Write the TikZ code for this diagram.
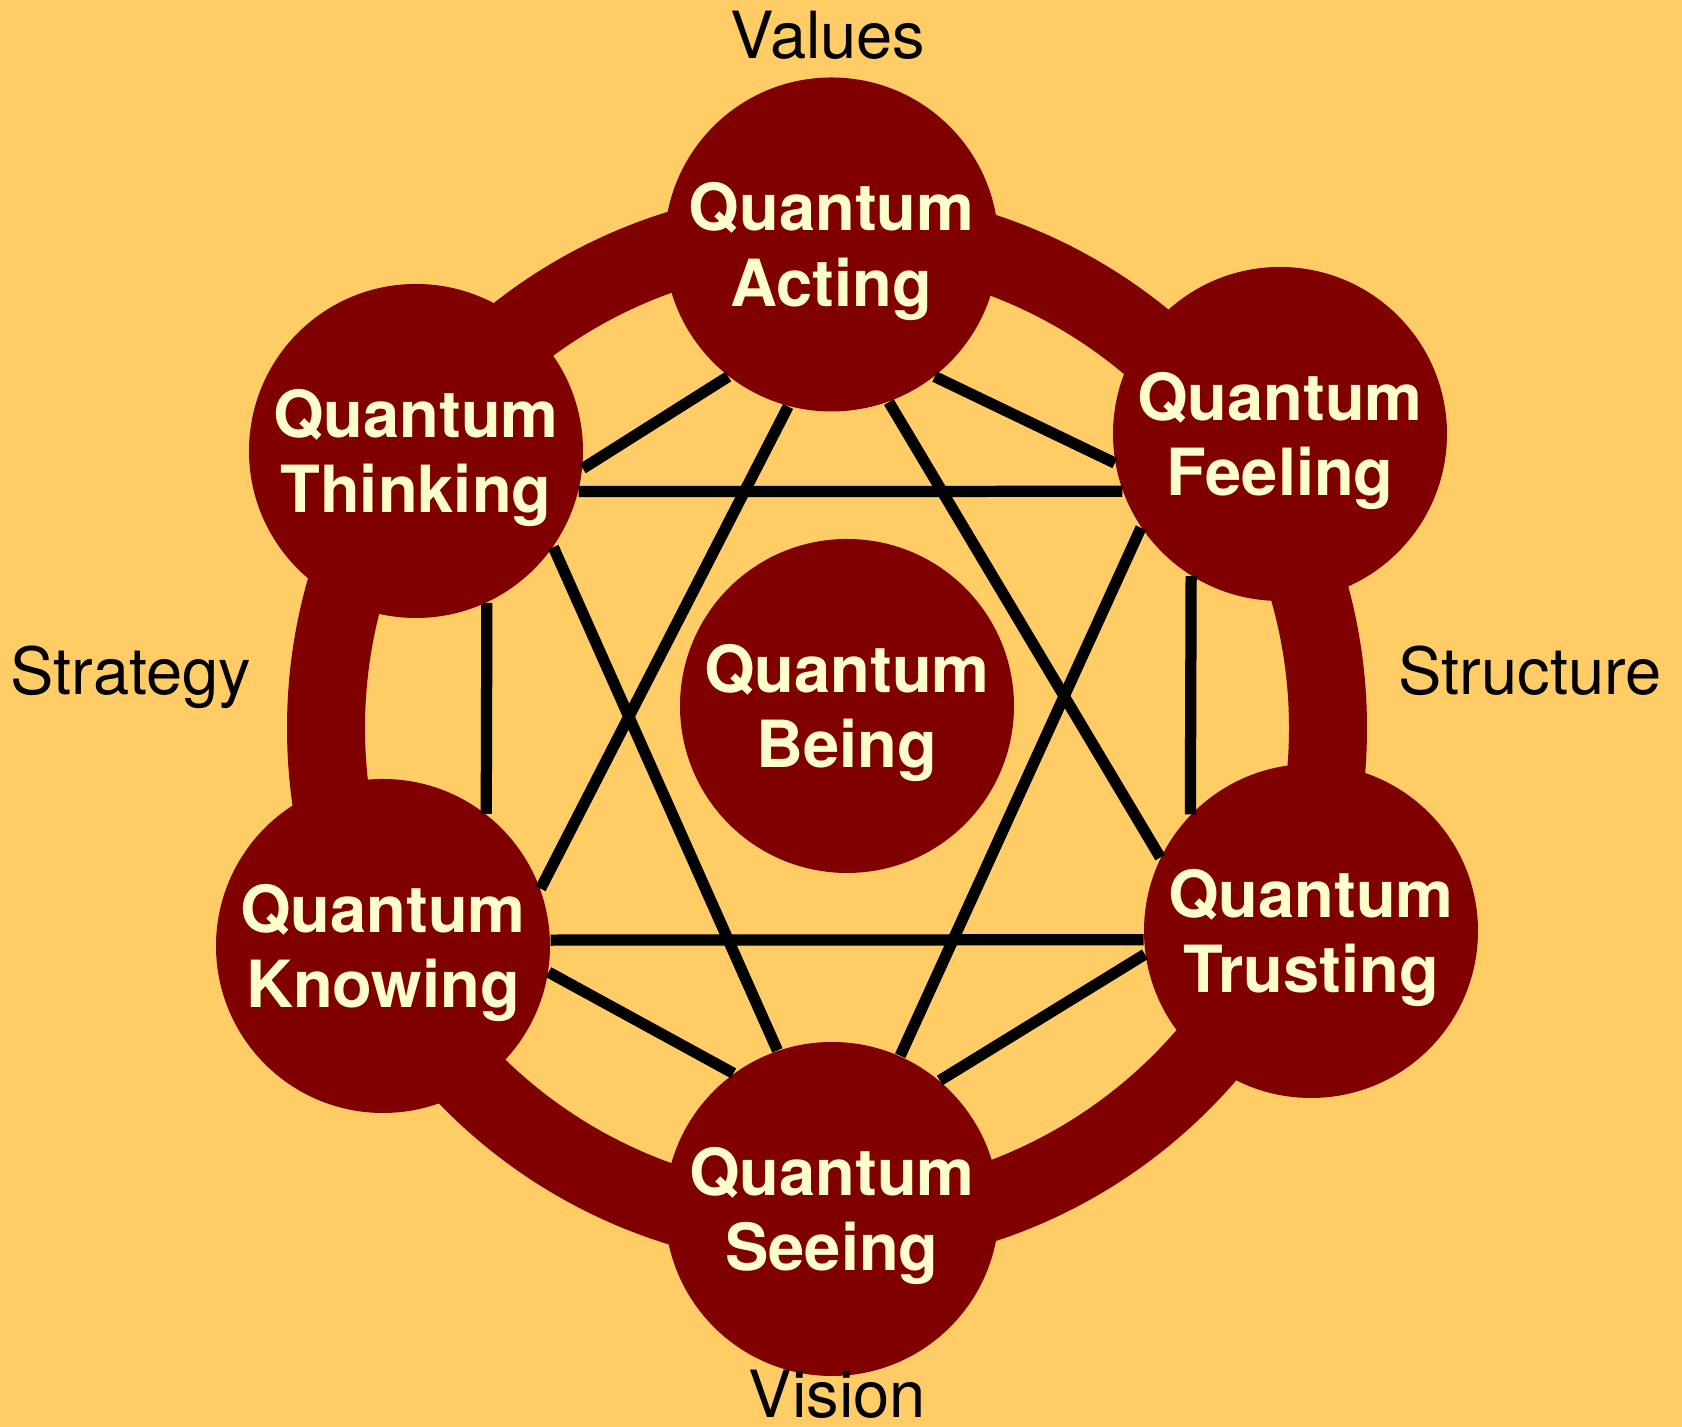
\documentclass[tikz,border=0pt]{standalone}
\usepackage{fontspec}
\setmainfont{TeX Gyre Heros}
\usepackage{xcolor}
\definecolor{qback}{HTML}{FFCC66}
\definecolor{qred}{HTML}{800000}
\definecolor{qtext}{HTML}{FFFFCC}

\begin{document}
\begin{tikzpicture}[
  quantum/.style={circle,fill=qred,text=qtext,minimum size=3.34cm,inner sep=0pt,
    align=center,text depth=0pt,font=\fontsize{18.5}{21.5}\selectfont\bfseries},
  aspect/.style={anchor=base,inner sep=0pt,text=black,font=\fontsize{18.5}{21.5}\selectfont},
  link/.style={draw=black,line width=3.2pt},
  ring/.style={draw=qred,line width=0.78cm}]

\fill[qback] (0,0) rectangle (16.82,14.27);
\useasboundingbox (0,0) rectangle (16.82,14.27);

% ring
\coordinate (RingCentre) at (8.27,6.99);
\draw[ring] (RingCentre) circle (5.01cm);

% circles
\node[quantum] (QuantumActing) at (8.315,11.825) {Quantum\\Acting};
\node[quantum] (QuantumFeeling) at (12.80,9.93) {Quantum\\Feeling};
\node[quantum] (QuantumThinking) at (4.16,9.76) {Quantum\\Thinking};
\node[quantum] (QuantumKnowing) at (3.83,4.81) {Quantum\\Knowing};
\node[quantum] (QuantumTrusting) at (13.11,4.96) {Quantum\\Trusting};
\node[quantum] (QuantumSeeing) at (8.32,2.18) {Quantum\\Seeing};
\node[quantum] (QuantumBeing) at (8.47,7.21) {Quantum\\Being};

% labels
\node[aspect] (Values) at (8.28,13.68) {Values};
\node[aspect] (Strategy) at (1.31,7.32) {Strategy};
\node[aspect] (Structure) at (15.30,7.32) {Structure};
\node[aspect] (Vision) at (8.375,0.09) {Vision};

% links
\draw[link] (QuantumThinking.-6) -- (QuantumActing.232);
\draw[link] (QuantumActing.-52) -- (QuantumFeeling.190);
\draw[link] (QuantumThinking.-14) -- (QuantumFeeling.200);
\draw[link] (QuantumActing.255) -- (QuantumKnowing.20);
\draw[link] (QuantumActing.-70) -- (QuantumTrusting.154);
\draw[link] (QuantumThinking.-35) -- (QuantumSeeing.109);
\draw[link] (QuantumFeeling.214) -- (QuantumSeeing.66);
\draw[link] (QuantumThinking.-65) -- (QuantumKnowing.52);
\draw[link] (QuantumFeeling.238) -- (QuantumTrusting.136);
\draw[link] (QuantumKnowing.2) -- (QuantumTrusting.183);
\draw[link] (QuantumKnowing.-9) -- (QuantumSeeing.126);
\draw[link] (QuantumTrusting.188) -- (QuantumSeeing.50);

\end{tikzpicture}
\end{document}
